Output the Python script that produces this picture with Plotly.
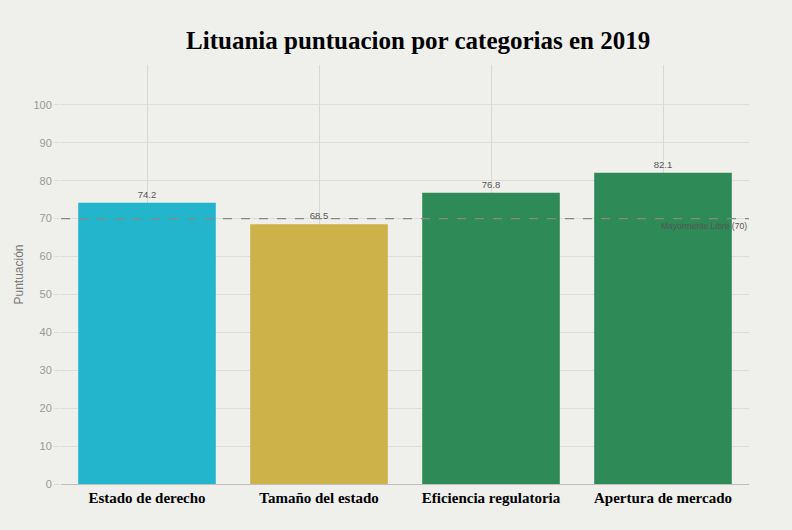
import plotly.graph_objects as go

categories = ["Estado de derecho", "Tamaño del estado", "Eficiencia regulatoria", "Apertura de mercado"]
values = [74.2, 68.5, 76.8, 82.1]
labels = ["74.2", "68.5", "76.8", "82.1"]
colors = ["#22b5cc", "#cdb24a", "#2e8a57", "#2e8a57"]
threshold = 70
threshold_label = "Mayormente Libre (70)"
y_ticks = [0, 10, 20, 30, 40, 50, 60, 70, 80, 90, 100]

fig = go.Figure()
fig.add_trace(go.Bar(
    x=categories, y=values, marker=dict(color=colors, line=dict(width=0)),
    text=labels, textposition="outside",
    textfont=dict(family="Liberation Sans, Arial", size=9.5, color="#555555"),
    width=0.8, cliponaxis=False,
))
fig.add_shape(type="line", xref="paper", x0=0, x1=1, yref="y", y0=threshold, y1=threshold,
              line=dict(color="#888888", width=1.3, dash="dash"))
fig.add_annotation(xref="paper", x=1, yref="y", y=threshold, text=threshold_label,
                   showarrow=False, xanchor="right", yanchor="top",
                   font=dict(family="Liberation Sans, Arial", size=8.5, color="#555555"))

fig.update_layout(
    width=792, height=530,
    paper_bgcolor="#efefec", plot_bgcolor="#efefec",
    margin=dict(l=61, r=43, t=65, b=46),
    title=dict(text="<b>Lituania puntuacion por categorias en 2019</b>", x=0.528, xanchor="center",
               y=0.925, yanchor="middle",
               font=dict(family="Liberation Serif, Times New Roman", size=25, color="#000000")),
    showlegend=False, bargap=0.2,
    xaxis=dict(showgrid=True, gridcolor="#d8d8d5", gridwidth=1, automargin=False,
               tickfont=dict(family="Liberation Serif, Times New Roman", size=15, color="#000000"),
               ticks="", showline=True, linecolor="#bdbdbd", linewidth=1),
    yaxis=dict(range=[0, 110.5], tickvals=y_ticks, showgrid=True, gridcolor="#dcdcd9",
               zeroline=False, ticks="outside", ticklen=6, tickcolor="#dcdcd9", automargin=False,
               tickfont=dict(family="Liberation Sans, Arial", size=11, color="#999999"),
               title=dict(text="Puntuación", font=dict(family="Liberation Sans, Arial", size=12, color="#777777"),
                          standoff=7)),
)
fig.update_xaxes(ticktext=["<b>" + c + "</b>" for c in categories], tickvals=categories)
fig.write_html("out.html", config={"displayModeBar": False},
               post_script="document.body.style.margin='0';document.body.style.background='#efefec';")
